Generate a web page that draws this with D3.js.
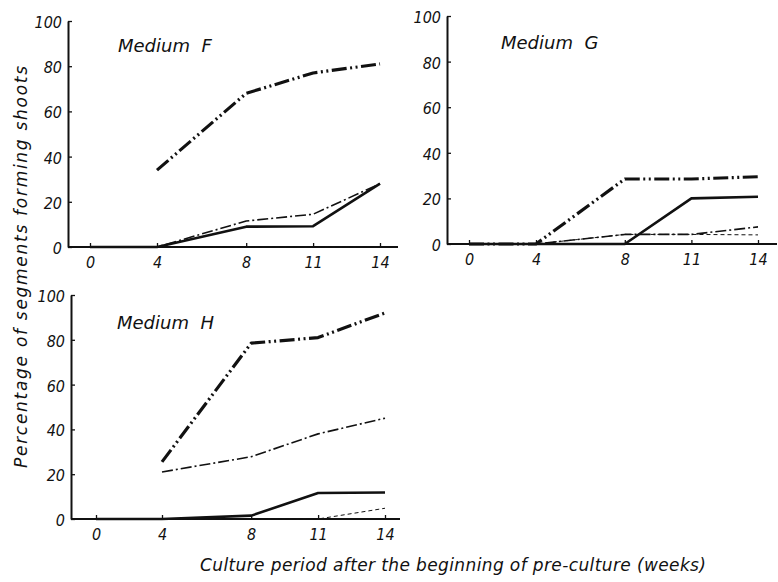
<!DOCTYPE html>
<html>
<head>
<meta charset="utf-8">
<script src="https://cdn.jsdelivr.net/npm/d3@7"></script>
<style>
  body { margin: 0; background: #fff; }
  svg { display: block; }
  .tick text { font-family: "DejaVu Sans Condensed", "Liberation Sans Narrow", "DejaVu Sans", sans-serif; font-style: oblique; font-size: 16px; fill: #111; }
  .tick line, .domain, .baseline { stroke: #111; }
  .label { font-family: "DejaVu Sans", sans-serif; font-style: oblique; fill: #111; }
</style>
</head>
<body>
<svg id="chart" width="778" height="582"></svg>
<script>
// weeks after the beginning of pre-culture
var weeks = [0, 4, 8, 11, 14];
var yTicks = [0, 20, 40, 60, 80, 100];

// percentage of segments forming shoots, one array per medium and line style
var fDashDotDot = [null, 34, 68, 77, 81];
var fDashDot    = [0, 0, 11.5, 14.5, 28];
var fSolid      = [0, 0, 9, 9.2, 28];
var fDashed     = [0, 0, 0, 0, 0];

var gDashDotDot = [0, 0, 28.5, 28.5, 29.5];
var gDashDot    = [0, 0, 4.2, 4.2, 7.5];
var gSolid      = [0, 0, 0, 20, 20.7];
var gDashed     = [0, 0, 4.2, 4.2, 4];

var hDashDotDot = [null, 25.5, 78.5, 81, 92];
var hDashDot    = [null, 21, 27.8, 38, 45];
var hSolid      = [0, 0, 1.5, 11.6, 11.8];
var hDashed     = [0, 0, 0, 0, 4.8];

// line styles
var styles = {
  dashDotDot: {width: 3.2, dash: "15,3.5,2,3.5,2,3.5"},
  dashDot:    {width: 1.6, dash: "11,3,2,3"},
  solid:      {width: 2.6, dash: null},
  dashed:     {width: 1, dash: "4,3"}
};

// panel layout
var panels = [
  {name: "Medium F", left: 68, x0: 90, x4: 157, x14: 380, right: 398, top: 21, bottom: 247, lx: 118, ly: 52,
   series: [["dashed", fDashed], ["dashDot", fDashDot], ["solid", fSolid], ["dashDotDot", fDashDotDot]]},
  {name: "Medium G", left: 447, x0: 469, x4: 536, x14: 758, right: 777, top: 16, bottom: 244, lx: 501, ly: 49,
   series: [["dashed", gDashed], ["dashDot", gDashDot], ["solid", gSolid], ["dashDotDot", gDashDotDot]]},
  {name: "Medium H", left: 71, x0: 96, x4: 162, x14: 385, right: 400, top: 295, bottom: 519, lx: 117, ly: 329,
   series: [["dashed", hDashed], ["dashDot", hDashDot], ["solid", hSolid], ["dashDotDot", hDashDotDot]]}
];

var svg = d3.select("#chart");

panels.forEach(function(p) {
  var g = svg.append("g");

  // the week axis is broken between 0 and 4
  var x = d3.scaleLinear().domain([0, 4, 14]).range([p.x0, p.x4, p.x14]);
  var y = d3.scaleLinear().domain([0, 100]).range([p.bottom, p.top]);

  // baseline running from the y axis past week 14
  g.append("line")
    .attr("class", "baseline")
    .attr("x1", p.left).attr("x2", p.right)
    .attr("y1", y(0)).attr("y2", y(0))
    .attr("stroke-width", 2);

  var xAxis = g.append("g")
    .attr("transform", "translate(0," + y(0) + ")")
    .call(d3.axisBottom(x).tickValues(weeks).tickSize(-4).tickSizeOuter(0).tickPadding(10).tickFormat(d3.format("d")));
  xAxis.select(".domain").remove();
  xAxis.selectAll(".tick line").attr("stroke-width", 1.3);

  var yAxis = g.append("g")
    .attr("transform", "translate(" + p.left + ",0)")
    .call(d3.axisLeft(y).tickValues(yTicks).tickSize(-4).tickSizeOuter(0).tickPadding(6));
  yAxis.select(".domain").attr("stroke-width", 2);
  yAxis.selectAll(".tick line").attr("stroke-width", 1.3);
  yAxis.selectAll(".tick text").attr("dy", "0.4em");

  var line = d3.line()
    .defined(function(d) { return d[1] != null; })
    .x(function(d) { return x(d[0]); })
    .y(function(d) { return y(d[1]); });

  p.series.forEach(function(s) {
    var st = styles[s[0]];
    g.append("path")
      .attr("d", line(weeks.map(function(w, i) { return [w, s[1][i]]; })))
      .attr("fill", "none")
      .attr("stroke", "#111")
      .attr("stroke-width", st.width)
      .attr("stroke-dasharray", st.dash)
      .attr("stroke-linejoin", "round");
  });

  g.append("text")
    .attr("class", "label")
    .attr("x", p.lx).attr("y", p.ly)
    .style("font-size", "18px")
    .attr("xml:space", "preserve")
    .text(p.name.replace(" ", "  "));
});

// axis titles
svg.append("text")
  .attr("class", "label")
  .attr("transform", "translate(27,267) rotate(-90)")
  .attr("text-anchor", "middle")
  .style("font-size", "17px")
  .attr("textLength", 402)
  .attr("lengthAdjust", "spacing")
  .text("Percentage of segments forming shoots");

svg.append("text")
  .attr("class", "label")
  .attr("x", 453).attr("y", 571)
  .attr("text-anchor", "middle")
  .style("font-size", "17px")
  .attr("textLength", 506)
  .attr("lengthAdjust", "spacing")
  .text("Culture period after the beginning of pre-culture (weeks)");
</script>
</body>
</html>
